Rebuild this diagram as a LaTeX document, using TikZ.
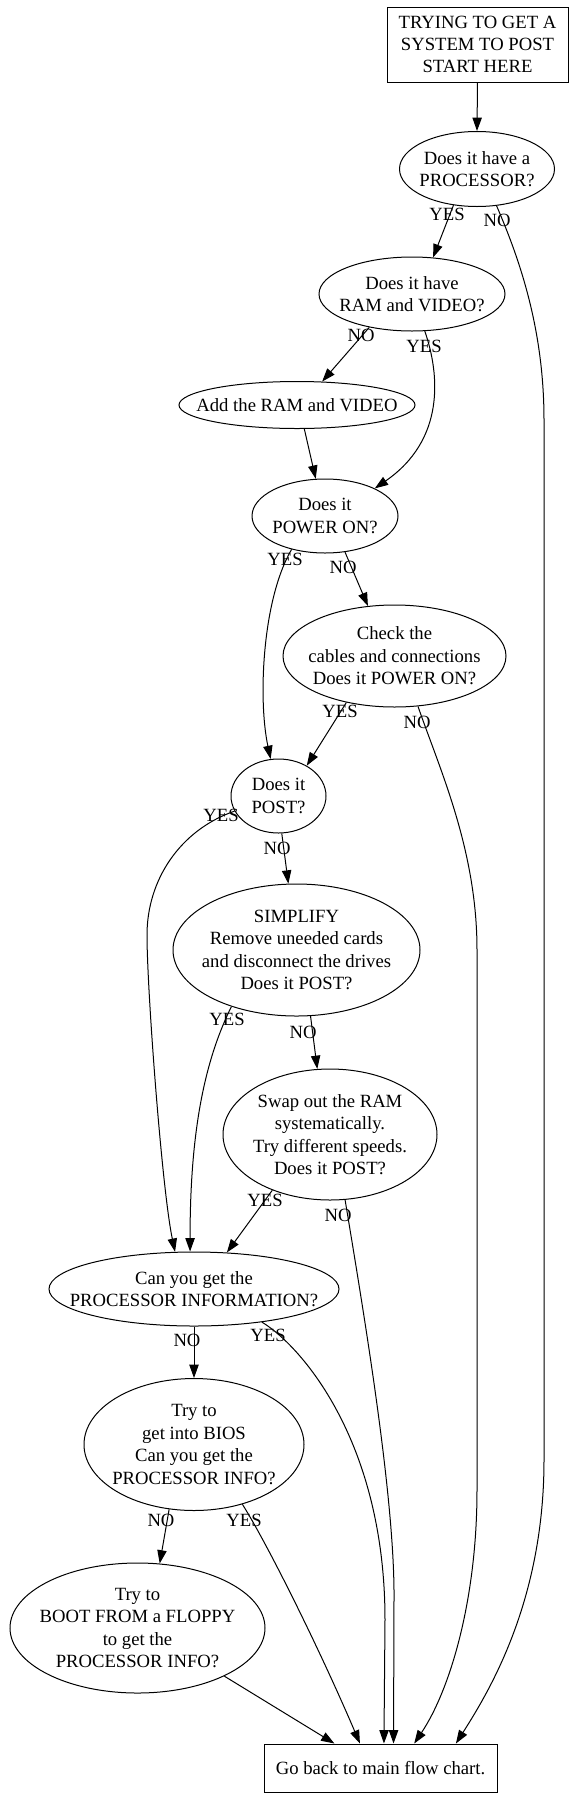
\documentclass[tikz,border=0pt]{standalone}
\usepackage{fontspec}
\setmainfont{Liberation Serif}
\usetikzlibrary{shapes.geometric,arrows.meta,calc}
\begin{document}
\begin{tikzpicture}[x=0.75pt,y=-0.75pt,
  txt/.style={font=\fontsize{14pt}{16.8pt}\selectfont, align=center, inner sep=0pt},
  ell/.style n args={3}{ellipse, draw, line width=0.75pt, inner sep=0pt,
     minimum width=#1*0.75pt, minimum height=#2*0.75pt, label={[txt]center:{#3}}},
  boxnode/.style n args={2}{rectangle, draw, line width=0.75pt, inner sep=0pt,
     minimum width=#1*0.75pt, minimum height=#2*0.75pt, txt},
  arr/.style={line width=0.75pt, -{Triangle[length=10pt,width=7pt]}},
  lbl/.style={txt}
]
\path[use as bounding box, fill=white] (0,0) rectangle (575,1799);

% nodes
\node[boxnode={181}{75}] (start) at (477.5,44.5) {TRYING TO GET A\\SYSTEM TO POST\\START HERE};
\node[ell={155}{75}{Does it have a\\PROCESSOR?}] (proc) at (477,169) {};
\node[ell={186}{74}{Does it have\\RAM and VIDEO?}] (ram) at (412,294) {};
\node[ell={236}{47}{Add the RAM and VIDEO}] (add) at (297,405) {};
\node[ell={146}{74}{Does it\\POWER ON?}] (power) at (325,516) {};
\node[ell={223}{102}{Check the\\cables and connections\\Does it POWER ON?}] (check) at (394.5,656) {};
\node[ell={95}{74}{Does it\\POST?}] (post) at (278.5,796) {};
\node[ell={247}{132}{SIMPLIFY\\Remove uneeded cards\\and disconnect the drives\\Does it POST?}] (simp) at (296.5,950) {};
\node[ell={214}{131}{Swap out the RAM\\systematically.\\Try different speeds.\\Does it POST?}] (swap) at (330,1134.5) {};
\node[ell={290}{74}{Can you get the\\PROCESSOR INFORMATION?}] (canyou) at (194,1289) {};
\node[ell={220}{132}{Try to\\get into BIOS\\Can you get the\\PROCESSOR INFO?}] (bios) at (194,1444.5) {};
\node[ell={255}{130}{Try to\\BOOT FROM a FLOPPY\\to get the\\PROCESSOR INFO?}] (floppy) at (137.5,1628) {};
\node[boxnode={233}{48}] (goback) at (380.5,1768) {Go back to main flow chart.};

% edges
\draw[arr] (start.south) -- (proc.north);
\draw[arr] (proc.237) -- (ram.60);
\draw[arr] (proc.298) .. controls (520,260) and (544,330) .. (544,420) -- (544,1460) .. controls (544,1600) and (490,1690) .. (goback.18);
\draw[arr] (ram.218) -- (add.43);
\draw[arr] (ram.289) .. controls (440,375) and (445,440) .. (power.29);
\draw[arr] (add.287) -- (power.104);
\draw[arr] (power.225) .. controls (262,600) and (258,700) .. (post.102);
\draw[arr] (power.299) -- (check.118);
\draw[arr] (check.224) -- (post.47);
\draw[arr] (check.295) .. controls (440,770) and (477,850) .. (477,950) -- (477,1490) .. controls (477,1600) and (450,1690) .. (goback.36);
\draw[arr] (post.199) .. controls (180,830) and (147,880) .. (147,935) .. controls (147,990) and (162,1190) .. (canyou.117);
\draw[arr] (post.275) -- (simp.97);
\draw[arr] (simp.221) .. controls (205,1060) and (190,1130) .. (canyou.96);
\draw[arr] (simp.282) -- (swap.101);
\draw[arr] (swap.224) -- (canyou.48);
\draw[arr] (swap.283) .. controls (365,1320) and (395,1500) .. (394,1600) -- (goback.62);
\draw[arr] (canyou.270) -- (bios.90);
\draw[arr] (canyou.334) .. controls (300,1345) and (385,1440) .. (385,1620) -- (goback.82);
\draw[arr] (bios.249) -- (floppy.71);
\draw[arr] (bios.309) .. controls (268,1545) and (320,1650) .. (goback.130);
\draw[arr] (floppy.331) -- (goback.152);

% edge labels
\node[lbl] (l1) at (447,214) {YES};
\node[lbl] (l2) at (497,220) {NO};
\node[lbl] (l3) at (361,335) {NO};
\node[lbl] (l4) at (424,346) {YES};
\node[lbl] (l5) at (285,559) {YES};
\node[lbl] (l6) at (343,567) {NO};
\node[lbl] (l7) at (340,711) {YES};
\node[lbl] (l8) at (417,722) {NO};
\node[lbl] (l9) at (221,815) {YES};
\node[lbl] (l10) at (277,848) {NO};
\node[lbl] (l11) at (227,1019) {YES};
\node[lbl] (l12) at (303,1032) {NO};
\node[lbl] (l13) at (265,1200) {YES};
\node[lbl] (l14) at (338,1215) {NO};
\node[lbl] (l15) at (187,1340) {NO};
\node[lbl] (l16) at (268,1335) {YES};
\node[lbl] (l17) at (161,1520) {NO};
\node[lbl] (l18) at (244,1520) {YES};
\end{tikzpicture}
\end{document}
